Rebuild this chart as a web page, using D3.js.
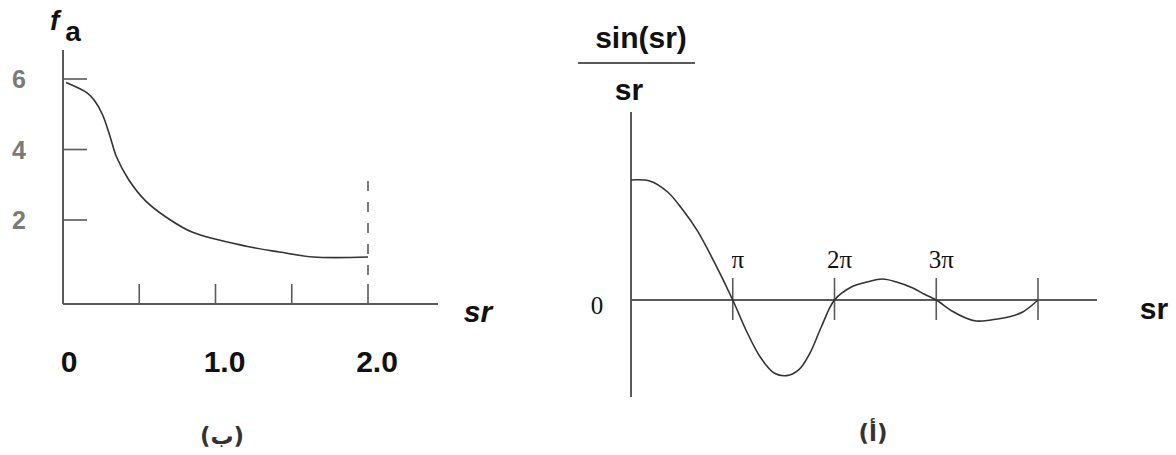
<!DOCTYPE html>
<html>
<head>
<meta charset="utf-8">
<script src="https://cdn.jsdelivr.net/npm/d3@7"></script>
<style>
  html, body { margin: 0; padding: 0; background: #fff; }
  svg { display: block; }
</style>
</head>
<body>
<svg id="chart" width="1176" height="455"></svg>
<script>
// Panel (ب): atomic scattering factor f_a versus sr
const faSr = [0.02, 0.16, 0.21, 0.26, 0.31, 0.35, 0.43, 0.54, 0.67, 0.85, 1.21, 1.42, 1.64, 2.0];
const faVal = [5.9, 5.6, 5.37, 4.98, 4.35, 3.8, 3.15, 2.55, 2.1, 1.65, 1.25, 1.09, 0.95, 0.95];
const faYTicks = [2, 4, 6];
const faXTicks = [0.5, 1.0, 1.5, 2.0];
const faXLabels = [0, 1.0, 2.0];
const faCutoff = 2.0;

// Panel (أ): sin(sr)/sr, sr in multiples of π
const sincSr = [0, 0.19, 0.36, 0.51, 0.65, 0.81, 1.0, 1.13, 1.27, 1.41, 1.53, 1.65, 1.76, 1.87, 2.0,
                2.17, 2.32, 2.47, 2.61, 2.77, 2.88, 3.0, 3.15, 3.29, 3.39, 3.55, 3.72, 3.85, 4.0];
const sincVal = [1.0, 0.99, 0.90, 0.75, 0.58, 0.33, 0, -0.25, -0.475, -0.61, -0.63, -0.58, -0.44, -0.225, 0,
                 0.11, 0.15, 0.175, 0.15, 0.10, 0.05, 0, -0.09, -0.15, -0.175, -0.165, -0.14, -0.10, 0];
const sincTicks = [1, 2, 3, 4];
const sincTickLabels = ["π", "2π", "3π", ""];

const svg = d3.select("#chart");
const axisColor = "#5a5a5a";
const curveColor = "#333";
const sans = "'Liberation Sans', Arial, sans-serif";
const serif = "'Liberation Serif', 'Times New Roman', serif";

// ---------- Panel (ب) ----------
{
  const x = d3.scaleLinear().domain([0, 2]).range([63, 368]);
  const y = d3.scaleLinear().domain([2, 6]).range([220, 79]);
  const g = svg.append("g");
  const axisY = 304;

  // axes
  g.append("line").attr("x1", x(0)).attr("x2", 438).attr("y1", axisY).attr("y2", axisY)
    .attr("stroke", axisColor).attr("stroke-width", 2);
  g.append("line").attr("x1", x(0)).attr("x2", x(0)).attr("y1", 50).attr("y2", axisY)
    .attr("stroke", axisColor).attr("stroke-width", 2);

  // y ticks and labels
  g.selectAll(".yt").data(faYTicks).join("line")
    .attr("x1", x(0)).attr("x2", x(0) + 24)
    .attr("y1", d => y(d)).attr("y2", d => y(d))
    .attr("stroke", axisColor).attr("stroke-width", 1.6);
  g.selectAll(".yl").data(faYTicks).join("text")
    .attr("x", 19).attr("y", d => y(d) + 9)
    .attr("text-anchor", "middle")
    .attr("font-family", sans).attr("font-weight", "bold").attr("font-size", 25)
    .attr("fill", "#7a7a7a").text(d => d);

  // x ticks pointing up from the axis
  g.selectAll(".xt").data(faXTicks).join("line")
    .attr("x1", d => x(d)).attr("x2", d => x(d))
    .attr("y1", axisY).attr("y2", axisY - 20)
    .attr("stroke", axisColor).attr("stroke-width", 1.6);
  g.selectAll(".xl").data(faXLabels).join("text")
    .attr("x", d => x(d) + (d === 0 ? 6 : 9)).attr("y", 372)
    .attr("text-anchor", "middle")
    .attr("font-family", sans).attr("font-weight", "bold").attr("font-size", 30)
    .attr("fill", "#111").text(d => d === 0 ? "0" : d3.format(".1f")(d));

  // dashed cutoff line
  g.append("line").attr("x1", x(faCutoff)).attr("x2", x(faCutoff))
    .attr("y1", 181).attr("y2", axisY - 20)
    .attr("stroke", axisColor).attr("stroke-width", 1.6)
    .attr("stroke-dasharray", "10,11");

  // curve
  const line = d3.line().x(d => x(d[0])).y(d => y(d[1])).curve(d3.curveCatmullRom.alpha(0.5));
  g.append("path").datum(d3.zip(faSr, faVal)).attr("d", line)
    .attr("fill", "none").attr("stroke", curveColor).attr("stroke-width", 1.6);

  // axis titles
  const ft = g.append("text").attr("x", 50).attr("y", 30)
    .attr("font-family", sans).attr("font-weight", "bold").attr("font-size", 28).attr("fill", "#111");
  ft.append("tspan").attr("font-style", "italic").text("f");
  ft.append("tspan").attr("dx", 6).attr("dy", 11).text("a");

  g.append("text").attr("x", 478).attr("y", 322).attr("text-anchor", "middle")
    .attr("font-family", sans).attr("font-weight", "bold").attr("font-style", "italic")
    .attr("font-size", 30).attr("fill", "#111").text("sr");

  g.append("text").attr("x", 222).attr("y", 444).attr("text-anchor", "middle")
    .attr("font-family", "'DejaVu Sans', sans-serif").attr("font-weight", "bold")
    .attr("font-size", 23).attr("fill", "#333").text("(ب)");
}

// ---------- Panel (أ) ----------
{
  const x = d3.scaleLinear().domain([0, 4]).range([631, 1038]);
  const y = d3.scaleLinear().domain([0, 1]).range([300, 180]);
  const g = svg.append("g");

  g.append("line").attr("x1", x(0)).attr("x2", x(0)).attr("y1", 112).attr("y2", 397)
    .attr("stroke", axisColor).attr("stroke-width", 2);
  g.append("line").attr("x1", x(0)).attr("x2", 1097).attr("y1", y(0)).attr("y2", y(0))
    .attr("stroke", axisColor).attr("stroke-width", 2);

  g.selectAll(".t").data(sincTicks).join("line")
    .attr("x1", d => x(d)).attr("x2", d => x(d))
    .attr("y1", y(0) - 22).attr("y2", y(0) + 20)
    .attr("stroke", axisColor).attr("stroke-width", 1.6);
  g.selectAll(".tl").data(sincTicks).join("text")
    .attr("x", d => x(d) + 5).attr("y", 268)
    .attr("text-anchor", "middle")
    .attr("font-family", serif).attr("font-size", 25).attr("fill", "#111")
    .text((d, i) => sincTickLabels[i]);

  g.append("text").attr("x", 597).attr("y", 314).attr("text-anchor", "middle")
    .attr("font-family", serif).attr("font-size", 25).attr("fill", "#111").text("0");

  const line = d3.line().x(d => x(d[0])).y(d => y(d[1])).curve(d3.curveCatmullRom.alpha(0.5));
  g.append("path").datum(d3.zip(sincSr, sincVal)).attr("d", line)
    .attr("fill", "none").attr("stroke", curveColor).attr("stroke-width", 1.6);

  // y title as a fraction
  g.append("text").attr("x", 641).attr("y", 48).attr("text-anchor", "middle")
    .attr("font-family", sans).attr("font-weight", "bold").attr("font-size", 30)
    .attr("fill", "#111").text("sin(sr)");
  g.append("line").attr("x1", 578).attr("x2", 695).attr("y1", 63).attr("y2", 63)
    .attr("stroke", axisColor).attr("stroke-width", 2);
  g.append("text").attr("x", 629).attr("y", 100).attr("text-anchor", "middle")
    .attr("font-family", sans).attr("font-weight", "bold").attr("font-size", 30)
    .attr("fill", "#111").text("sr");

  g.append("text").attr("x", 1154).attr("y", 319).attr("text-anchor", "middle")
    .attr("font-family", sans).attr("font-weight", "bold").attr("font-size", 30)
    .attr("fill", "#111").text("sr");

  g.append("text").attr("x", 873).attr("y", 441).attr("text-anchor", "middle")
    .attr("font-family", "'DejaVu Sans', sans-serif").attr("font-weight", "bold")
    .attr("font-size", 23).attr("fill", "#333").text("(أ)");
}
</script>
</body>
</html>
